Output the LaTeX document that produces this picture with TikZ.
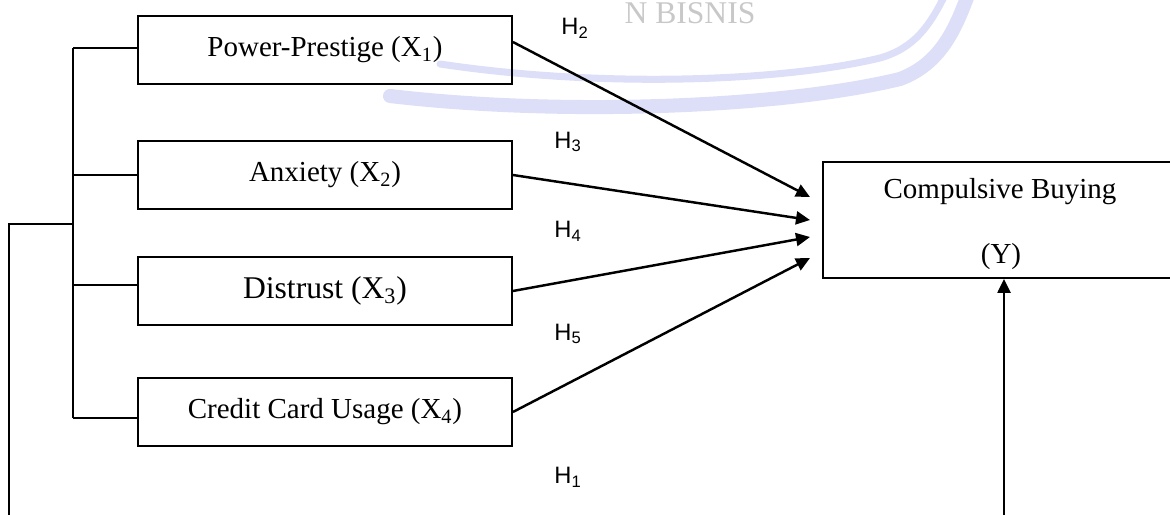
\documentclass[tikz,border=0pt]{standalone}
\usepackage{fontspec}
\setmainfont{Liberation Serif}
\newfontfamily\hfont{Liberation Sans}
\usetikzlibrary{arrows.meta,calc}
\definecolor{wmblue}{RGB}{220,223,247}
\definecolor{wmgray}{RGB}{200,200,200}
\begin{document}
\begin{tikzpicture}[x=0.02cm,y=-0.02cm,
  box/.style={draw,line width=1.1pt,minimum width=7.48cm,minimum height=1.36cm,inner sep=0pt,font=\fontsize{16.5}{19}\selectfont},
  conn/.style={line width=1.2pt},
  arr/.style={line width=1.4pt,-{Triangle[length=0.28cm,width=0.26cm]}},
  hyp/.style={font=\hfont\fontsize{13.5}{15}\selectfont,inner sep=0pt},
  ytext/.style={font=\fontsize{16.5}{19}\selectfont,inner sep=0pt},
  wm/.style={wmblue,line cap=round}]
\clip (0,0) rectangle (1170,514);
% watermark (background)
\draw[wm,line width=4pt] (440,64) .. controls (600,88) and (780,82) .. (880,58) .. controls (915,48) and (930,25) .. (945,-5);
\draw[wm,line width=8pt] (390,96) .. controls (560,116) and (780,108) .. (900,79) .. controls (940,64) and (955,30) .. (968,-5);
\node[text=wmgray,font=\fontsize{18}{20}\selectfont,inner sep=0pt] (wmtext) at (690,13) {N BISNIS};
% boxes
\node[box] (x1) at (325,50) {Power-Prestige (X\textsubscript{1})};
\node[box] (x2) at (325,175) {Anxiety (X\textsubscript{2})};
\node[box,font=\fontsize{18}{20}\selectfont] (x3) at (325,291) {Distrust (X\textsubscript{3})};
\node[box] (x4) at (325,412) {Credit Card Usage (X\textsubscript{4})};
\node[draw,line width=1.1pt,minimum width=7.54cm,minimum height=2.32cm,inner sep=0pt] (y) at (1011.5,220) {};
\node[ytext] (ytitle) at (1000,192) {Compulsive Buying};
\node[ytext] (ysym) at (1001,257) {(Y)};
% hypothesis labels
\node[hyp] (h2) at (575,28) {H\textsubscript{2}};
\node[hyp] (h3) at (568,142) {H\textsubscript{3}};
\node[hyp] (h4) at (568,231) {H\textsubscript{4}};
\node[hyp] (h5) at (568,334) {H\textsubscript{5}};
\node[hyp] (h1) at (568,477) {H\textsubscript{1}};
% arrow tips
\coordinate (t1) at (810,197);
\coordinate (t2) at (810,220);
\coordinate (t3) at (810,237);
\coordinate (t4) at (810,258);
\draw[arr] ([yshift=0.16cm]x1.east) -- (t1);
\draw[arr] (x2.east) -- (t2);
\draw[arr] (x3.east) -- (t3);
\draw[arr] (x4.east) -- (t4);
% bracket
\coordinate (b1) at (73,48);
\coordinate (b2) at (73,175);
\coordinate (b3) at (73,285);
\coordinate (b4) at (73,418);
\coordinate (bj) at (73,224);
\coordinate (o1) at (9,224);
\coordinate (o2) at (9,530);
\draw[conn] (b1) -- (b4);
\draw[conn] (b1) -- (b1 -| x1.west);
\draw[conn] (b2) -- (b2 -| x2.west);
\draw[conn] (b3) -- (b3 -| x3.west);
\draw[conn] (b4) -- (b4 -| x4.west);
\draw[conn] (bj) -- (o1) -- (o2);
\coordinate (ybot) at (1004,530);
\draw[arr] (ybot) -- (ybot |- y.south);
\end{tikzpicture}
\end{document}
